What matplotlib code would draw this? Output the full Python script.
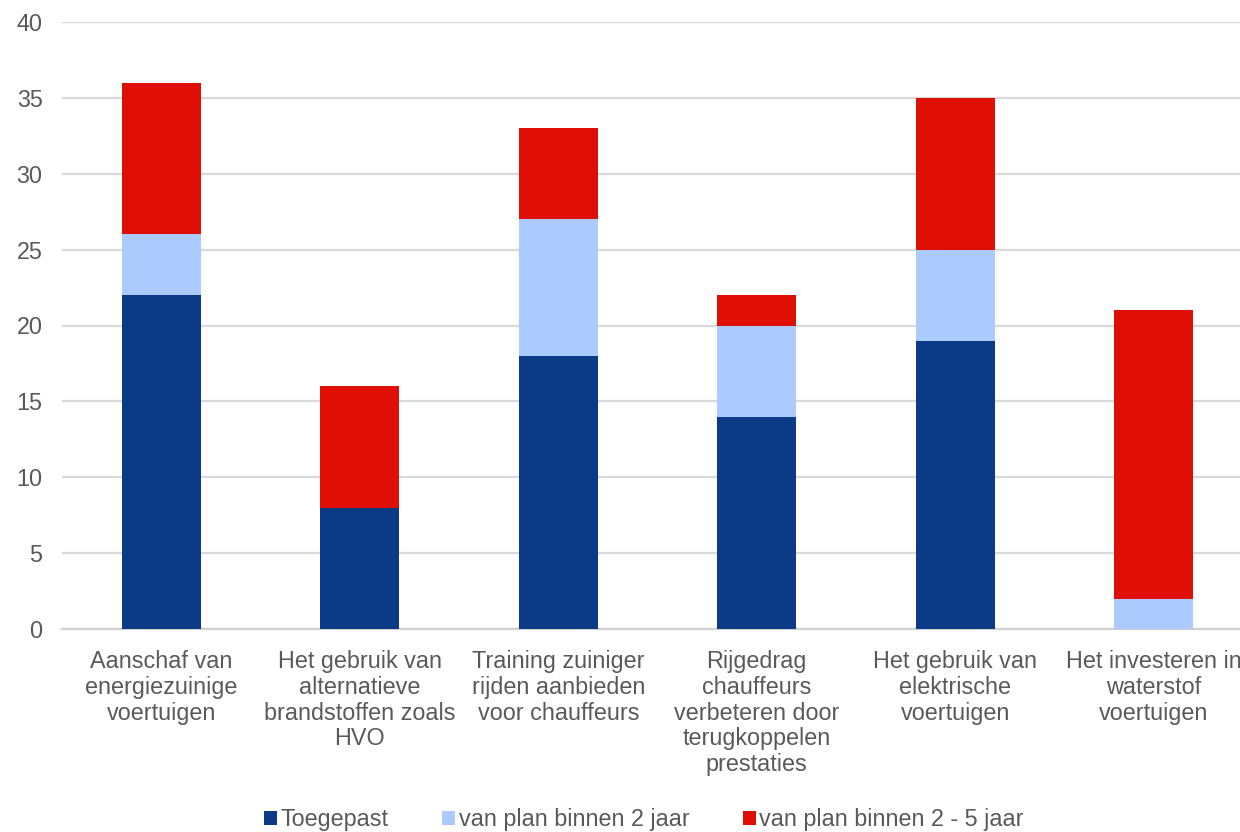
import matplotlib
matplotlib.use("Agg")
import matplotlib.pyplot as plt
import numpy as np

categories = [
    "Aanschaf van\nenergiezuinige\nvoertuigen",
    "Het gebruik van\nalternatieve\nbrandstoffen zoals\nHVO",
    "Training zuiniger\nrijden aanbieden\nvoor chauffeurs",
    "Rijgedrag\nchauffeurs\nverbeteren door\nterugkoppelen\nprestaties",
    "Het gebruik van\nelektrische\nvoertuigen",
    "Het investeren in\nwaterstof\nvoertuigen",
]
series_names = ["Toegepast", "van plan binnen 2 jaar", "van plan binnen 2 - 5 jaar"]
toegepast = [22, 8, 18, 14, 19, 0]
binnen_2 = [4, 0, 9, 6, 6, 2]
binnen_2_5 = [10, 8, 6, 2, 10, 19]
y_ticks = [0, 5, 10, 15, 20, 25, 30, 35, 40]

colors = ["#0B3A87", "#ABCBFF", "#E00F05"]
text_color = "#595959"
fs = 16.8

plt.rcParams["font.family"] = ["Liberation Sans", "DejaVu Sans"]

fig = plt.figure(figsize=(12.4, 8.32), dpi=100)
ax = fig.add_axes([62 / 1240, 1 - 629 / 832, 1191 / 1240, (629 - 22) / 832])

x = np.arange(len(categories))
width = 0.40
bottom = np.zeros(len(categories))
for vals, name, col in zip([toegepast, binnen_2, binnen_2_5], series_names, colors):
    ax.bar(x, vals, width, bottom=bottom, color=col, label=name, zorder=3)
    bottom += np.array(vals)

ax.set_xlim(-0.5, len(categories) - 0.5)
ax.set_ylim(0, 40)
ax.set_yticks(y_ticks)
ax.set_xticks(x)
ax.set_xticklabels(categories, fontsize=fs, color=text_color, linespacing=1.16)
ax.tick_params(axis="y", length=0, pad=14, labelsize=fs, labelcolor=text_color)
ax.tick_params(axis="x", length=0, pad=15)
ax.grid(axis="y", color="#D9D9D9", linewidth=1.6, zorder=0)
for side in ["top", "right", "left"]:
    ax.spines[side].set_visible(False)
ax.spines["bottom"].set_color("#D0D0D0")
ax.spines["bottom"].set_linewidth(1.6)

handles, labels = ax.get_legend_handles_labels()
fig.legend(handles, labels, loc="center", bbox_to_anchor=(644 / 1240, 1 - 819.5 / 832),
           ncol=3, frameon=False, fontsize=fs, labelcolor=text_color,
           handlelength=0.55, handleheight=0.55, handletextpad=0.15, columnspacing=2.3,
           borderpad=0.0, borderaxespad=0.0)

fig.savefig("out.png", dpi=100)
